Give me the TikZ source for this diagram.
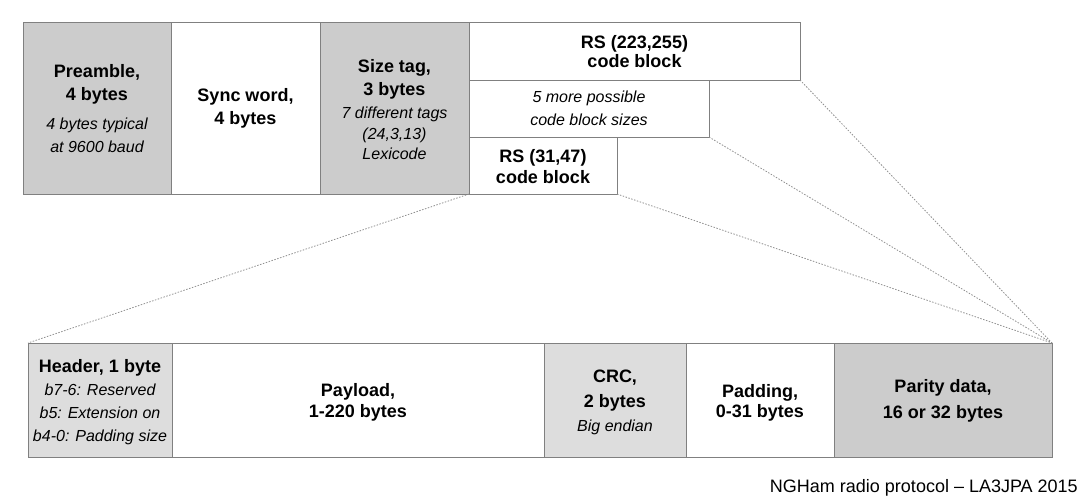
\documentclass[tikz,border=0pt]{standalone}
\usepackage{fontspec}
\setmainfont{Liberation Sans}
\definecolor{boxline}{HTML}{808080}
\definecolor{gdark}{HTML}{CCCCCC}
\definecolor{glight}{HTML}{DDDDDD}
\definecolor{dotcol}{HTML}{909090}
\newcommand{\bt}[1]{{\bfseries\fontsize{18}{23}\selectfont #1}}
\newcommand{\itx}[1]{{\itshape\fontsize{16}{23}\selectfont #1}}
\begin{document}
\begin{tikzpicture}[x=1pt,y=-1pt,
  box/.style={draw=boxline, line width=1pt, outer sep=0pt, inner sep=0pt,
    anchor=north west},
  txt/.style={inner sep=0pt, align=center, font=\fontsize{18}{23}\selectfont},
  dotline/.style={draw=dotcol, line width=0.8pt, dash pattern=on 1.5pt off 1.5pt}]
\useasboundingbox (0,0) rectangle (1086,503);
% top row
\node[box, fill=gdark, minimum width=148pt, minimum height=171pt] (pre) at (23,23) {};
\node[txt] (pre-t) at (pre.center)
  {\bt{Preamble,}\\ \bt{4 bytes}\\[6pt] \itx{4 bytes typical}\\ \itx{at 9600 baud}};
\node[box, fill=white, minimum width=149pt, minimum height=171pt] (sync) at (171,23) {};
\node[txt] (sync-t) at (sync.center) {\bt{Sync word,}\\ \bt{4 bytes}};
\node[box, fill=gdark, minimum width=149pt, minimum height=171pt] (size) at (320,23) {};
\node[txt, yshift=-1pt] (size-t) at (size.center)
  {\bt{Size tag,}\\ \bt{3 bytes}\\ \itx{7 different tags}\\[-2pt] \itx{(24,3,13)}\\[-3pt] \itx{Lexicode}};
\node[box, fill=white, minimum width=331pt, minimum height=57pt] (rsbig) at (469,23) {};
\node[txt] (rsbig-t) at (rsbig.center) {\bt{RS (223,255)}\\[-4pt] \bt{code block}};
\node[box, fill=white, minimum width=240pt, minimum height=57pt] (more) at (469,80) {};
\node[txt] (more-t) at (more.center) {\itx{5 more possible}\\ \itx{code block sizes}};
\node[box, fill=white, minimum width=148pt, minimum height=57pt] (rssmall) at (469,137) {};
\node[txt, yshift=-1.5pt] (rssmall-t) at (rssmall.center) {\bt{RS (31,47)}\\[-2pt] \bt{code block}};
% bottom row
\node[box, fill=glight, minimum width=144pt, minimum height=114pt] (head) at (28,343) {};
\node[txt, yshift=-2pt] (head-t) at (head.center)
  {\bt{Header, 1 byte}\\ \itx{b7-6: Reserved}\\ \itx{b5: Extension on}\\ \itx{b4-0: Padding size}};
\node[box, fill=white, minimum width=372pt, minimum height=114pt] (pay) at (172,343) {};
\node[txt, yshift=-2.5pt] (pay-t) at (pay.center) {\bt{Payload,}\\[-2pt] \bt{1-220 bytes}};
\node[box, fill=glight, minimum width=142pt, minimum height=114pt] (crc) at (544,343) {};
\node[txt, yshift=-2pt] (crc-t) at (crc.center) {\bt{CRC,}\\[2pt] \bt{2 bytes}\\[1pt] \itx{Big endian}};
\node[box, fill=white, minimum width=148pt, minimum height=114pt] (pad) at (686,343) {};
\node[txt, yshift=-3pt] (pad-t) at (pad.center) {\bt{Padding,}\\[-3pt] \bt{0-31 bytes}};
\node[box, fill=gdark, minimum width=218pt, minimum height=114pt] (par) at (834,343) {};
\node[txt, yshift=-1pt] (par-t) at (par.center) {\bt{Parity data,}\\[3pt] \bt{16 or 32 bytes}};
% zoom lines
\draw[dotline] (rssmall.south west) -- (head.north west);
\draw[dotline] (rssmall.south east) -- (par.north east);
\draw[dotline] (more.south east) -- (par.north east);
\draw[dotline] (rsbig.south east) -- (par.north east);
% footer
\node[anchor=base east, inner sep=0pt, font=\fontsize{18}{20}\selectfont] (foot) at (1078,492)
  {NGHam radio protocol – LA3JPA 2015};
\end{tikzpicture}
\end{document}
